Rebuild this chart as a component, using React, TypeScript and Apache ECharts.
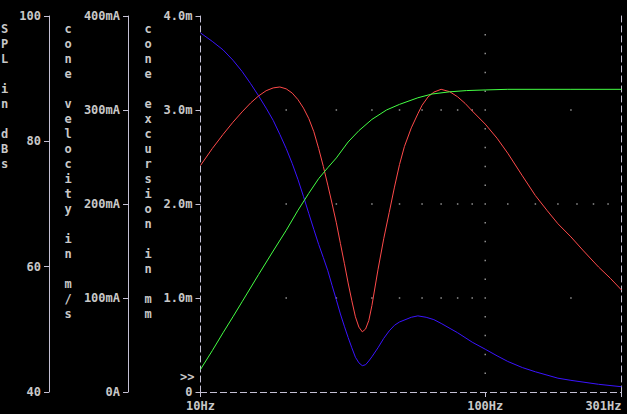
import React, { useEffect, useRef } from "react";
import * as echarts from "echarts";

// ---- data ----
const blueFreq = [10,11,12,13,14,15,16,17,18,19,20,21,22,23,24,25,26,27,28,29,30,31,32,33,34,35,36,37,38,39,40,42,44,46,48,50,55,58,62,66,70,80,90,100,110,120,135,150,180,200,250,301];
const coneExcursionMm = [3.82,3.73,3.64,3.53,3.41,3.28,3.15,3.02,2.89,2.74,2.59,2.43,2.26,2.08,1.90,1.73,1.57,1.43,1.29,1.13,0.98,0.83,0.70,0.58,0.47,0.37,0.31,0.28,0.29,0.33,0.375,0.47,0.57,0.65,0.71,0.745,0.795,0.81,0.795,0.77,0.73,0.63,0.53,0.455,0.385,0.325,0.26,0.215,0.147,0.124,0.082,0.056];

const redFreq = [10,11,12,13,14,15,16,17,18,19,20,21,22,23,24,25,26,27,28,29,30,31,32,33,34,35,36,37,38,39,40,42,44,46,48,50,52,55,58,60,63,66,70,75,80,85,90,100,110,120,135,150,165,180,200,220,250,275,301];
const coneVelocityMA = [241,259,274,287,298,307.5,315,320.5,323.5,324.5,322.5,318,311,302,291,277,259,240,220,200,180,158,137,116,97,80,69,64,67,76,92,130,163,191,218,242,261,281,296,305,314,319,322,319.5,314,307,299,285,270,254,230,209,193,179,165,151,133,121,108.5];

const greenFreq = [10,11,12,13,14,16,18,20,22,24,26,28,30,33,36,40,45,50,58,65,75,86,100,120,200,301];
const splDb = [43.6,46.6,49.45,52.0,54.4,58.75,62.5,65.8,69.0,71.7,74.05,75.8,77.35,79.9,81.7,83.5,85.0,85.9,86.95,87.55,87.9,88.1,88.2,88.3,88.3,88.3];

const xTickValues = [10, 100, 301];

// grid dot positions (frequency, excursion level)
const outerGridFreqs = [20,30,40,50,60,70,80,90,200];
const outerGridLevels = [1, 3];
const midGridFreqs = [20,30,40,50,60,70,80,90,120,150,180,210,240,270];
const midGridLevel = 2;
const vGridFreq = 100;
const vGridLevels = [0.2,0.4,0.6,0.8,1.0,1.2,1.4,1.6,1.8,2.0,2.2,2.4,2.6,2.8,3.0,3.2,3.4,3.6,3.8];

const TEXT = "#c8c8c8";
const LINE = "#c4c0d4";
const FONT = "DejaVu Sans Mono";

export default function App() {
  const ref = useRef<HTMLDivElement>(null);
  useEffect(() => {
    if (!ref.current) return;
    const chart = echarts.init(ref.current, null, { renderer: "svg" });

    const dots: number[][] = [];
    outerGridLevels.forEach((l) => outerGridFreqs.forEach((f) => dots.push([f, l])));
    midGridFreqs.forEach((f) => dots.push([f, midGridLevel]));
    vGridLevels.forEach((l) => dots.push([vGridFreq, l]));

    const labelStyle = { color: TEXT, fontFamily: FONT, fontWeight: "bold" as const, fontSize: 12 };
    const nameFont = `bold 12px "${FONT}"`;

    chart.setOption({
      animation: false,
      backgroundColor: "#000",
      grid: { left: 200.5, right: 5.5, top: 16, bottom: 22, containLabel: false },
      xAxis: [
        {
          type: "log", logBase: 10, min: 10, max: 301, position: "bottom",
          axisLine: { show: true, lineStyle: { color: LINE, type: [6, 4], width: 1 } },
          axisTick: { show: true, customValues: xTickValues, length: 5, lineStyle: { color: LINE } },
          axisLabel: { show: true, customValues: xTickValues, margin: 8, alignMaxLabel: "right", formatter: (v: number) => `${Math.round(v)}Hz`, ...labelStyle },
          splitLine: { show: false }, minorTick: { show: false },
        },
        {
          type: "log", logBase: 10, min: 10, max: 301, position: "top",
          axisLine: { show: true, lineStyle: { color: LINE, type: [6, 4], width: 1 } },
          axisTick: { show: false }, axisLabel: { show: false }, splitLine: { show: false },
        },
      ],
      yAxis: [
        {
          type: "value", min: 0, max: 4, interval: 1, position: "left", offset: 0,
          axisLine: { show: true, lineStyle: { color: LINE, type: [6, 4], width: 1 } },
          axisTick: { show: true, length: 5, lineStyle: { color: LINE } },
          axisLabel: { margin: 8, formatter: (v: number) => (v === 0 ? "0" : `${v.toFixed(1)}m`), ...labelStyle },
          splitLine: { show: false },
        },
        {
          type: "value", min: 0, max: 400, interval: 100, position: "left", offset: 72.5,
          axisLine: { show: true, lineStyle: { color: LINE, width: 1 } },
          axisTick: { show: true, length: 5, lineStyle: { color: LINE } },
          axisLabel: { margin: 8, formatter: (v: number) => (v === 0 ? "0A" : `${v}mA`), ...labelStyle },
          splitLine: { show: false },
        },
        {
          type: "value", min: 40, max: 100, interval: 20, position: "left", offset: 151.5,
          axisLine: { show: true, lineStyle: { color: LINE, width: 1 } },
          axisTick: { show: true, length: 5, lineStyle: { color: LINE } },
          axisLabel: { margin: 8, ...labelStyle },
          splitLine: { show: false },
        },
        {
          type: "value", min: 0, max: 4, position: "right",
          axisLine: { show: true, lineStyle: { color: LINE, type: [6, 4], width: 1 } },
          axisTick: { show: false }, axisLabel: { show: false }, splitLine: { show: false },
        },
      ],
      series: [
        {
          type: "scatter", xAxisIndex: 0, yAxisIndex: 0, silent: true,
          symbol: "rect", symbolSize: 1.5, itemStyle: { color: "#b4b4b4" },
          data: dots, z: 1,
        },
        {
          type: "line", name: "excursion", xAxisIndex: 0, yAxisIndex: 0, showSymbol: false,
          smooth: false,
          lineStyle: { color: "#3a14ff", width: 1 },
          data: blueFreq.map((f, i) => [f, coneExcursionMm[i]]), z: 3,
        },
        {
          type: "line", name: "velocity", xAxisIndex: 0, yAxisIndex: 1, showSymbol: false,
          smooth: false,
          lineStyle: { color: "#ff4a4a", width: 1 },
          data: redFreq.map((f, i) => [f, coneVelocityMA[i]]), z: 3,
        },
        {
          type: "line", name: "spl", xAxisIndex: 0, yAxisIndex: 2, showSymbol: false,
          smooth: false,
          lineStyle: { color: "#44ff44", width: 1 },
          data: greenFreq.map((f, i) => [f, splDb[i]]), z: 3,
        },
      ],
      graphic: [
        {
          type: "text", x: 4.5, y: 21,
          style: { text: "S\nP\nL\n\ni\nn\n\nd\nB\ns", font: nameFont, lineHeight: 15, fill: TEXT, align: "center", verticalAlign: "top" },
        },
        {
          type: "text", x: 68, y: 21,
          style: { text: "c\no\nn\ne\n\nv\ne\nl\no\nc\ni\nt\ny\n\ni\nn\n\nm\n/\ns", font: nameFont, lineHeight: 15, fill: TEXT, align: "center", verticalAlign: "top" },
        },
        {
          type: "text", x: 148, y: 21,
          style: { text: "c\no\nn\ne\n\ne\nx\nc\nu\nr\ns\ni\no\nn\n\ni\nn\n\nm\nm", font: nameFont, lineHeight: 15, fill: TEXT, align: "center", verticalAlign: "top" },
        },
        {
          type: "text", x: 180, y: 371,
          style: { text: ">>", font: nameFont, fill: TEXT, align: "left", verticalAlign: "top" },
        },
      ],
    });
    return () => chart.dispose();
  }, []);
  return (
    <div
      ref={ref}
      style={{ position: "absolute", left: 0, top: 0, width: 627, height: 414, background: "#000" }}
    />
  );
}
